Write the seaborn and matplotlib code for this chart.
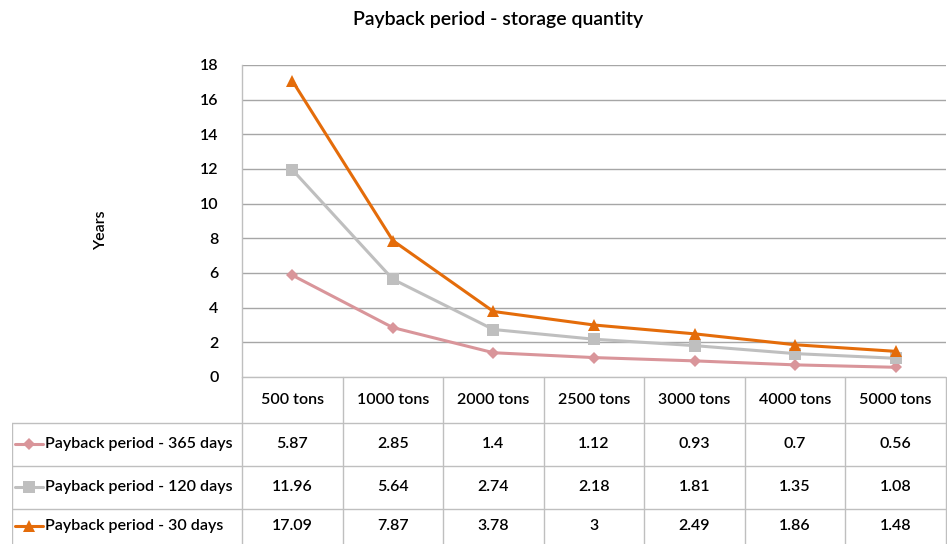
import matplotlib
matplotlib.use("Agg")
import matplotlib.pyplot as plt
import seaborn as sns
import pandas as pd
import numpy as np

categories = ["500 tons", "1000 tons", "2000 tons", "2500 tons", "3000 tons", "4000 tons", "5000 tons"]
series_names = ["Payback period - 365 days", "Payback period - 120 days", "Payback period - 30 days"]
pb_365 = [5.87, 2.85, 1.4, 1.12, 0.93, 0.7, 0.56]
pb_120 = [11.96, 5.64, 2.74, 2.18, 1.81, 1.35, 1.08]
pb_30 = [17.09, 7.87, 3.78, 3, 2.49, 1.86, 1.48]
table_text = [
    ["5.87", "2.85", "1.4", "1.12", "0.93", "0.7", "0.56"],
    ["11.96", "5.64", "2.74", "2.18", "1.81", "1.35", "1.08"],
    ["17.09", "7.87", "3.78", "3", "2.49", "1.86", "1.48"],
]
y_ticks = [0, 2, 4, 6, 8, 10, 12, 14, 16, 18]

colors = ["#D9959A", "#BFBFBF", "#E46C0A"]
markers = ["D", "s", "^"]
msizes = [6, 8, 9]

sns.set_theme(style="white")
plt.rcParams["font.family"] = ["Lato", "DejaVu Sans"]
FW = "semibold"
FS = 11.5

W, H = 947, 544
fig = plt.figure(figsize=(W / 100, H / 100), dpi=100)

# main plot area in pixels
px_l, px_r, px_t, px_b = 242, 946, 65, 377
ax = fig.add_axes([px_l / W, 1 - px_b / H, (px_r - px_l) / W, (px_b - px_t) / H])

rows = []
for name, vals in zip(series_names, [pb_365, pb_120, pb_30]):
    for i, (c, v) in enumerate(zip(categories, vals)):
        rows.append({"series": name, "idx": i, "cat": c, "value": v})
df = pd.DataFrame(rows)

sns.lineplot(data=df, x="idx", y="value", hue="series", style="series",
             palette=dict(zip(series_names, colors)),
             markers=dict(zip(series_names, markers)), dashes=False,
             linewidth=2.2, markeredgewidth=0, legend=False, ax=ax)
for line, ms in zip(ax.lines, msizes):
    line.set_markersize(ms)

n = len(categories)
ax.set_xlim(-0.5, n - 0.5)
ax.set_ylim(0, 18)
ax.set_yticks(y_ticks)
ax.set_yticklabels([str(t) for t in y_ticks], fontsize=FS, fontweight=FW, color="black")
ax.tick_params(axis="y", length=0, pad=17)
ax.set_xticks([])
ax.set_xlabel("")
ax.set_ylabel("")
ax.grid(axis="y", color="#A6A6A6", linewidth=1)
for s in ["top", "right", "bottom"]:
    ax.spines[s].set_visible(False)
ax.spines["left"].set_color("#BFBFBF")
ax.spines["left"].set_linewidth(1)

fig.text(498 / W, 1 - 20 / H, "Payback period - storage quantity", ha="center", va="center",
         fontsize=14, fontweight=FW, color="black")
fig.text(101 / W, 1 - 230 / H, "Years", ha="center", va="center", rotation=90,
         fontsize=FS, fontweight=FW, color="black")

# table axes sharing category scale
cw = (px_r - px_l) / n
tl = 12
tax = fig.add_axes([tl / W, 0, (px_r - tl) / W, (H - px_b) / H])
tax.set_xlim(-0.5 - (px_l - tl) / cw, n - 0.5)
tax.set_ylim(H, px_b)
tax.axis("off")
lc = "#BFBFBF"
row_edges = [px_b, 423, 466, 509, 552]
xl = -0.5 - (px_l - tl) / cw
# verticals
for i in range(n + 1):
    tax.plot([i - 0.5, i - 0.5], [px_b, H], color=lc, lw=1, clip_on=False)
tax.plot([xl, xl], [row_edges[1], H], color=lc, lw=1)
# horizontals
for j, y in enumerate(row_edges[:-1]):
    x0 = -0.5 if j == 0 else xl
    tax.plot([x0, n - 0.5], [y, y], color=lc, lw=1)

hy = (row_edges[0] + row_edges[1]) / 2
for i, c in enumerate(categories):
    tax.text(i, hy, c, ha="center", va="center", fontsize=FS, fontweight=FW, color="black")
for r in range(3):
    yc = (row_edges[r + 1] + row_edges[r + 2]) / 2
    if r == 2:
        yc = 526
    for i in range(n):
        tax.text(i, yc, table_text[r][i], ha="center", va="center", fontsize=FS,
                 fontweight=FW, color="black")
    # legend key
    k0 = xl + 3 / cw
    k1 = xl + 31 / cw
    tax.plot([k0, k1], [yc, yc], color=colors[r], lw=2.2)
    tax.plot([(k0 + k1) / 2], [yc], marker=markers[r], color=colors[r], ms=msizes[r], mew=0)
    tax.text(xl + 33 / cw, yc, series_names[r], ha="left", va="center", fontsize=FS,
             fontweight=FW, color="black")

fig.savefig("out.png", dpi=100)
